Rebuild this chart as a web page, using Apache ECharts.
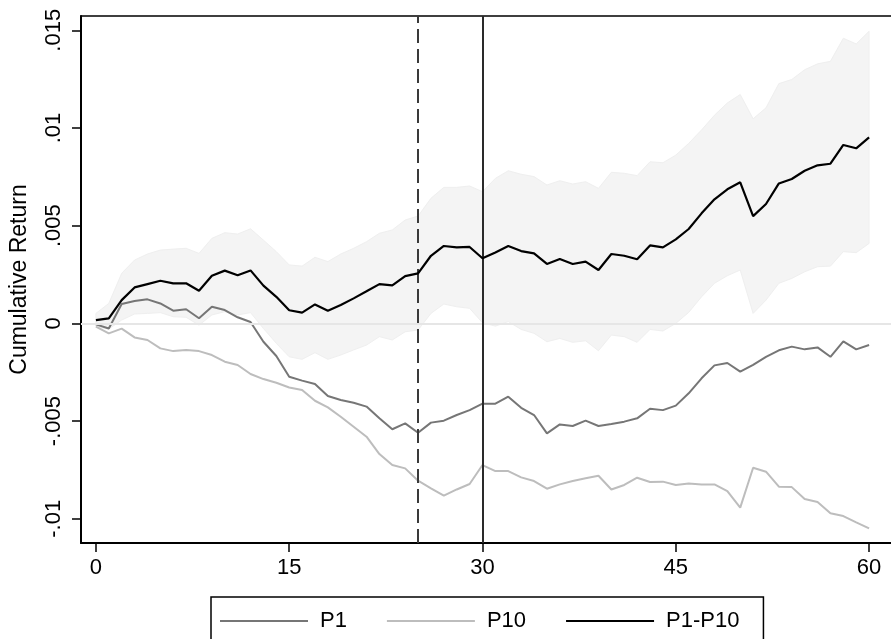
<!DOCTYPE html>
<html>
<head>
<meta charset="utf-8">
<script src="https://cdn.jsdelivr.net/npm/echarts@6/dist/echarts.min.js"></script>
<style>
  html, body { margin: 0; padding: 0; background: #fff; }
  #chart { width: 891px; height: 639px; }
</style>
</head>
<body>
<div id="chart"></div>
<script>
// Event window (days) and cumulative returns
const days = [0,1,2,3,4,5,6,7,8,9,10,11,12,13,14,15,16,17,18,19,20,21,22,23,24,25,26,27,28,29,30,
  31,32,33,34,35,36,37,38,39,40,41,42,43,44,45,46,47,48,49,50,51,52,53,54,55,56,57,58,59,60];

const p1 = [-0.00005,-0.00026,0.00099,0.00114,0.00123,0.00102,0.00065,0.00072,0.00026,0.00085,
  0.00068,0.00031,0.00007,-0.00094,-0.00167,-0.00273,-0.00293,-0.00310,-0.00372,-0.00392,
  -0.00406,-0.00426,-0.00486,-0.00542,-0.00512,-0.00560,-0.00508,-0.00498,-0.00469,-0.00444,
  -0.00411,-0.00411,-0.00375,-0.00432,-0.00469,-0.00563,-0.00517,-0.00525,-0.00498,-0.00525,
  -0.00515,-0.00503,-0.00486,-0.00437,-0.00444,-0.00421,-0.00358,-0.00281,-0.00215,-0.00203,
  -0.00247,-0.00212,-0.00171,-0.00138,-0.00119,-0.00133,-0.00123,-0.00171,-0.00092,-0.00133,-0.00111];

const p10 = [-0.00017,-0.00051,-0.00027,-0.00072,-0.00085,-0.00128,-0.00142,-0.00136,-0.00142,-0.00162,
  -0.00196,-0.00213,-0.00259,-0.00285,-0.00304,-0.00328,-0.00341,-0.00396,-0.00430,-0.00478,
  -0.00529,-0.00580,-0.00669,-0.00725,-0.00742,-0.00805,-0.00844,-0.00882,-0.00850,-0.00822,
  -0.00725,-0.00756,-0.00756,-0.00788,-0.00807,-0.00846,-0.00824,-0.00807,-0.00793,-0.00780,
  -0.00850,-0.00827,-0.00790,-0.00812,-0.00810,-0.00827,-0.00819,-0.00824,-0.00824,-0.00858,
  -0.00943,-0.00739,-0.00759,-0.00836,-0.00838,-0.00899,-0.00914,-0.00972,-0.00986,-0.01018,-0.01049];

const spread = [0.00017,0.00026,0.00119,0.00184,0.00201,0.00218,0.00205,0.00205,0.00167,0.00244,
  0.00270,0.00246,0.00271,0.00193,0.00136,0.00067,0.00055,0.00097,0.00065,0.00094,
  0.00128,0.00164,0.00201,0.00194,0.00242,0.00256,0.00346,0.00396,0.00389,0.00391,
  0.00333,0.00363,0.00396,0.00370,0.00358,0.00304,0.00329,0.00304,0.00316,0.00273,
  0.00355,0.00346,0.00328,0.00399,0.00389,0.00430,0.00483,0.00563,0.00635,0.00686,
  0.00722,0.00549,0.00611,0.00716,0.00739,0.00781,0.00809,0.00817,0.00913,0.00896,0.00952];

// Confidence band around the spread
const bandHi = [0.00051,0.00102,0.00256,0.00324,0.00355,0.00375,0.00380,0.00384,0.00358,0.00435,
  0.00464,0.00457,0.00484,0.00426,0.00367,0.00299,0.00293,0.00338,0.00316,0.00355,
  0.00384,0.00418,0.00461,0.00478,0.00529,0.00549,0.00640,0.00696,0.00696,0.00703,
  0.00674,0.00742,0.00781,0.00763,0.00751,0.00708,0.00730,0.00713,0.00725,0.00691,
  0.00773,0.00768,0.00756,0.00827,0.00822,0.00861,0.00921,0.00990,0.01065,0.01128,
  0.01171,0.01047,0.01103,0.01227,0.01248,0.01298,0.01328,0.01341,0.01459,0.01430,0.01495];

const bandLo = [-0.00017,-0.00029,0.00017,0.00048,0.00051,0.00055,0.00034,0.00031,-0.00009,0.00043,
  0.00060,0.00043,0.00055,-0.00026,-0.00102,-0.00171,-0.00184,-0.00150,-0.00184,-0.00162,
  -0.00136,-0.00111,-0.00068,-0.00085,-0.00043,-0.00034,0.00051,0.00099,0.00085,0.00077,
  0.00003,-0.00014,0.00009,-0.00031,-0.00051,-0.00094,-0.00077,-0.00097,-0.00089,-0.00140,
  -0.00060,-0.00068,-0.00097,-0.00031,-0.00039,0.00000,0.00056,0.00136,0.00205,0.00244,
  0.00273,0.00051,0.00119,0.00205,0.00230,0.00264,0.00290,0.00293,0.00367,0.00362,0.00409];

const xTicks = [0, 15, 30, 45, 60];
const yTicks = [-0.01, -0.005, 0, 0.005, 0.01, 0.015];
const yTickText = { '-0.01': '-.01', '-0.005': '-.005', '0': '0', '0.005': '.005', '0.01': '.01', '0.015': '.015' };
const markerDays = { dashed: 25, solid: 30 };

const FONT = "'Liberation Sans', Arial, Helvetica, sans-serif";
const pairs = arr => days.map((d, i) => [d, arr[i]]);

const chart = echarts.init(document.getElementById('chart'), null, { renderer: 'canvas' });

chart.setOption({
  animation: false,
  backgroundColor: '#ffffff',
  textStyle: { fontFamily: FONT, color: '#000' },
  grid: { left: 76, right: 0, top: 16, bottom: 96, containLabel: false },
  xAxis: [{
    type: 'value',
    min: -1.157,
    max: 61.70,
    axisLine: { show: true, onZero: false, lineStyle: { color: '#000', width: 2 } },
    axisTick: { show: true, customValues: xTicks, length: 9, lineStyle: { color: '#000', width: 1.5 } },
    axisLabel: { customValues: xTicks, margin: 14, fontSize: 22, color: '#000', fontFamily: FONT },
    splitLine: { show: false }
  }, {
    type: 'value',
    position: 'top',
    min: -1.157,
    max: 61.70,
    axisLine: { show: true, onZero: false, lineStyle: { color: '#000', width: 1.5 } },
    axisTick: { show: false },
    axisLabel: { show: false },
    splitLine: { show: false }
  }],
  yAxis: {
    type: 'value',
    min: -0.01124,
    max: 0.01573,
    name: 'Cumulative Return',
    nameLocation: 'middle',
    nameGap: 50,
    nameTextStyle: { fontSize: 23, color: '#000', fontFamily: FONT },
    axisLine: { show: true, onZero: false, lineStyle: { color: '#000', width: 2 } },
    axisTick: { show: true, customValues: yTicks, length: 9, lineStyle: { color: '#000', width: 1.5 } },
    axisLabel: {
      customValues: yTicks,
      rotate: 90,
      margin: 16,
      fontSize: 22,
      color: '#000',
      fontFamily: FONT,
      formatter: v => yTickText[String(Math.round(v * 1000) / 1000)] ?? String(v)
    },
    splitLine: { show: false }
  },
  legend: {
    data: ['P1', 'P10', 'P1-P10'],
    left: 211,
    top: 597,
    orient: 'horizontal',
    icon: 'rect',
    itemWidth: 88,
    itemHeight: 2,
    itemGap: 40,
    padding: [13, 24, 13, 9],
    borderColor: '#000',
    borderWidth: 1.5,
    borderRadius: 0,
    textStyle: { fontSize: 22, color: '#000', fontFamily: FONT, padding: [0, 0, 0, 7] }
  },
  series: [
    {
      // shaded confidence band, with the zero line and event markers
      type: 'custom',
      name: 'band',
      z: 1,
      silent: true,
      data: [[0, 0]],
      renderItem: (params, api) => {
        const top = days.map((d, i) => api.coord([d, bandHi[i]]));
        const bottom = days.map((d, i) => api.coord([d, bandLo[i]])).reverse();
        return {
          type: 'polygon',
          shape: { points: top.concat(bottom) },
          style: { fill: '#f4f4f4', stroke: '#efefef', lineWidth: 1 }
        };
      },
      markLine: {
        silent: true,
        symbol: ['none', 'none'],
        label: { show: false },
        animation: false,
        data: [
          { yAxis: 0, lineStyle: { color: '#e6e6e6', width: 2, type: 'solid' } },
          { xAxis: markerDays.dashed, lineStyle: { color: '#3a3a3a', width: 2, type: [14, 6] } },
          { xAxis: markerDays.solid, lineStyle: { color: '#2a2a2a', width: 2, type: 'solid' } }
        ]
      }
    },
    {
      type: 'line', name: 'P10', z: 3,
      data: pairs(p10), showSymbol: false, symbol: 'none',
      color: '#bdbdbd', lineStyle: { color: '#bdbdbd', width: 2 }
    },
    {
      type: 'line', name: 'P1', z: 4,
      data: pairs(p1), showSymbol: false, symbol: 'none',
      color: '#767676', lineStyle: { color: '#767676', width: 2 }
    },
    {
      type: 'line', name: 'P1-P10', z: 5,
      data: pairs(spread), showSymbol: false, symbol: 'none',
      color: '#000000', lineStyle: { color: '#000000', width: 2.2 }
    }
  ]
});
</script>
</body>
</html>
